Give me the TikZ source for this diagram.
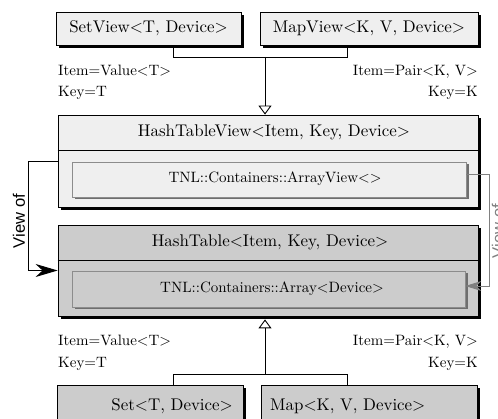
\documentclass[tikz,border=0pt]{standalone}
\usepackage{fontspec}
\setmainfont{lmroman10-regular}[Extension=.otf]
\setsansfont{Liberation Sans}
\usetikzlibrary{shadows,arrows.meta}
\definecolor{lightfill}{HTML}{EFEFEF}
\definecolor{darkfill}{HTML}{CCCCCC}
\definecolor{innerline}{HTML}{8C8C8C}
\definecolor{innershadow}{HTML}{6E6E6E}
\definecolor{viewgray}{HTML}{808080}
\tikzset{
  outerbox/.style={draw, line width=0.8pt, inner sep=0pt,
    drop shadow={shadow xshift=3pt, shadow yshift=-3pt, fill=black, opacity=1}},
  innerbox/.style={draw=innerline, line width=0.8pt, inner sep=0pt,
    drop shadow={shadow xshift=2.5pt, shadow yshift=-2.5pt, fill=innershadow, opacity=1}},
  titletext/.style={font=\fontsize{16.9}{20}\selectfont, inner sep=0pt},
  labeltext/.style={font=\fontsize{15}{18}\selectfont, inner sep=0pt},
  viewtext/.style={font=\sffamily\fontsize{16.6}{20}\selectfont, inner sep=0pt, rotate=90},
  conn/.style={line width=0.9pt},
}
\begin{document}
\begin{tikzpicture}[x=1pt, y=-1pt]
\useasboundingbox (0,0) rectangle (498,419);
\clip (0,0) rectangle (498,419);

% top boxes
\node[outerbox, fill=lightfill, minimum width=185pt, minimum height=33pt, titletext] (sv) at (148.5,28.5) {SetView<T, Device>};
\node[outerbox, fill=lightfill, minimum width=218pt, minimum height=33pt, titletext] (mv) at (369,28.5) {MapView<K, V, Device>};

% HashTableView
\node[outerbox, fill=lightfill, minimum width=420pt, minimum height=92pt] (htv) at (268,161) {};
\draw[line width=0.8pt] (htv.west |- 0,150) -- (htv.east |- 0,150);
\node[titletext, anchor=base] (htvt) at (274,137) {HashTableView<Item, Key, Device>};
\node[innerbox, fill=lightfill, minimum width=394pt, minimum height=35pt] (htva) at (269,179.5) {};
\node[labeltext, anchor=base] (htvat) at (275,183) {TNL::Containers::ArrayView<>};

% HashTable
\node[outerbox, fill=darkfill, minimum width=420pt, minimum height=91pt] (ht) at (268,270.5) {};
\draw[line width=0.8pt] (ht.west |- 0,260) -- (ht.east |- 0,260);
\node[titletext, anchor=base] (htt) at (270,247) {HashTable<Item, Key, Device>};
\node[innerbox, fill=darkfill, minimum width=393pt, minimum height=36pt] (hta) at (268.5,289) {};
\node[labeltext, anchor=base] (htat) at (272,293) {TNL::Containers::Array<Device>};

% bottom boxes
\node[outerbox, fill=darkfill, minimum width=186pt, minimum height=65pt] (set) at (150,417.5) {};
\node[titletext, anchor=base east] (sett) at (233,410) {Set<T, Device>};
\node[outerbox, fill=darkfill, minimum width=216pt, minimum height=65pt] (map) at (369,417.5) {};
\node[titletext, anchor=base west] (mapt) at (270,410) {Map<K, V, Device>};

% labels top
\node[labeltext, anchor=base west] (l1) at (58,76) {Item=Value<T>};
\node[labeltext, anchor=base west] (l2) at (58,97) {Key=T};
\node[labeltext, anchor=base east] (l3) at (478,76) {Item=Pair<K, V>};
\node[labeltext, anchor=base east] (l4) at (478,97) {Key=K};
% labels bottom
\node[labeltext, anchor=base west] (l5) at (58,346) {Item=Value<T>};
\node[labeltext, anchor=base west] (l6) at (58,368) {Key=T};
\node[labeltext, anchor=base east] (l7) at (478,346) {Item=Pair<K, V>};
\node[labeltext, anchor=base east] (l8) at (478,368) {Key=K};

% top inheritance
\coordinate (tj) at (265,57);
\draw[conn] (173,0 |- sv.south) |- (tj);
\draw[conn] (347,0 |- mv.south) |- (tj);
\draw[conn, -{Triangle[open, length=9pt, width=13pt]}] (tj) -- (tj |- htv.north);

% bottom inheritance
\coordinate (bj) at (265,374);
\draw[conn] (173,0 |- set.north) |- (bj);
\draw[conn] (347,0 |- map.north) |- (bj);
\draw[conn, -{Triangle[open, length=9pt, width=13pt]}] (bj) -- ([yshift=-3pt]bj |- ht.south);

% left view of
\draw[conn, -{Stealth[length=22pt, width=13pt, inset=7pt]}] (htv.west) -- ++(-29,0) coordinate (lv) |- (ht.west);
\node[viewtext] (lvt) at (19,221) {View of};

% right view of
\draw[conn, viewgray, -{Stealth[length=16pt, width=10pt, inset=5pt]}] ([yshift=5.5pt]htva.east) -- ++(23,0) coordinate (rv) |- ([yshift=3pt]hta.east);
\node[viewtext, text=viewgray] (rvt) at (498,231) {View of};
\end{tikzpicture}
\end{document}
